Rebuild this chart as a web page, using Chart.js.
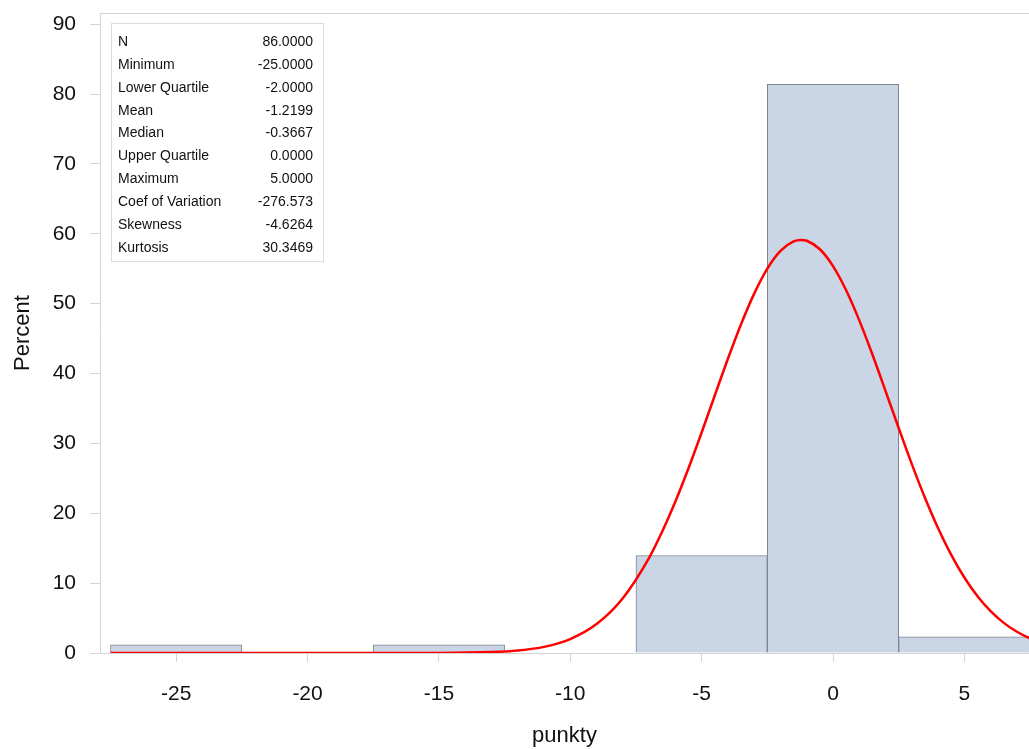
<!DOCTYPE html>
<html>
<head>
<meta charset="utf-8">
<script src="https://cdn.jsdelivr.net/npm/chart.js@4.4.0/dist/chart.umd.min.js"></script>
<style>
  html, body { margin: 0; padding: 0; background: #fff; }
  #wrap { width: 1029px; height: 749px; position: relative; }
</style>
</head>
<body>
<div id="wrap"><canvas id="hist"></canvas></div>
<script>
// histogram bins (midpoints) and percent of observations in each
const binMids = [-25, -20, -15, -10, -5, 0, 5];
const binPercent = [1.16, 0, 1.16, 0, 13.95, 81.4, 2.33];

// fitted normal curve, percent scale
const curveX = [-27.5, -20, -15, -13, -12, -11, -10, -9, -8, -7, -6.5, -6, -5.5, -5, -4.5, -4, -3.5, -3, -2.5, -2,
  -1.5, -1.22, -1, -0.5, 0, 0.5, 1, 1.5, 2, 2.5, 3, 3.5, 4, 4.5, 5, 5.5, 6, 6.5, 7, 7.5];
const curveY = [0, 0, 0.01, 0.13, 0.36, 0.88, 2.0, 4.14, 7.85, 13.63, 17.38, 21.67, 26.44, 31.56, 36.86, 42.11, 47.05, 51.44, 55.02, 57.56,
  58.92, 59.12, 59.0, 57.79, 55.38, 51.92, 47.61, 42.72, 37.49, 32.2, 27.04, 22.22, 17.86, 14.05, 10.81, 8.13, 5.99, 4.31, 3.04, 2.09];

const xTicks = [-25, -20, -15, -10, -5, 0, 5];
const yTicks = [0, 10, 20, 30, 40, 50, 60, 70, 80, 90];

// summary statistics table
const statNames = ['N', 'Minimum', 'Lower Quartile', 'Mean', 'Median', 'Upper Quartile', 'Maximum', 'Coef of Variation', 'Skewness', 'Kurtosis'];
const statValues = ['86.0000', '-25.0000', '-2.0000', '-1.2199', '-0.3667', '0.0000', '5.0000', '-276.573', '-4.6264', '30.3469'];

const FONT = "'Liberation Sans', Arial, sans-serif";
const axisGray = '#d4d4d4';

const frameAndStats = {
  id: 'frameAndStats',
  afterDraw(chart) {
    const { ctx, chartArea } = chart;
    ctx.save();
    // top frame line
    ctx.strokeStyle = axisGray;
    ctx.lineWidth = 1;
    ctx.beginPath();
    ctx.moveTo(chartArea.left, chartArea.top + 0.5);
    ctx.lineTo(chartArea.right, chartArea.top + 0.5);
    ctx.stroke();

    // stats inset
    const bx = 111.5, by = 23.5, bw = 212, bh = 238;
    ctx.fillStyle = '#fff';
    ctx.fillRect(bx, by, bw, bh);
    ctx.strokeStyle = '#dcdcdc';
    ctx.strokeRect(bx, by, bw, bh);
    ctx.font = '14px ' + FONT;
    ctx.fillStyle = '#111';
    ctx.textBaseline = 'middle';
    statNames.forEach((name, i) => {
      const y = 42 + i * 22.9;
      ctx.textAlign = 'left';
      ctx.fillText(name, 118, y);
      ctx.textAlign = 'right';
      ctx.fillText(statValues[i], 313, y);
    });
    ctx.restore();
  }
};

new Chart(document.getElementById('hist'), {
  type: 'bar',
  data: {
    datasets: [
      {
        type: 'line',
        data: curveX.map((x, i) => ({ x: x, y: curveY[i] })),
        borderColor: '#ff0000',
        borderWidth: 2.5,
        pointRadius: 0,
        cubicInterpolationMode: 'monotone',
        fill: false,
        order: 0
      },
      {
        type: 'bar',
        data: binMids.map((x, i) => ({ x: x, y: binPercent[i] })),
        backgroundColor: '#cad5e5',
        borderColor: '#7d8590',
        borderWidth: 1,
        barPercentage: 1,
        categoryPercentage: 1,
        order: 1
      }
    ]
  },
  options: {
    responsive: true,
    maintainAspectRatio: false,
    animation: false,
    layout: { padding: { top: 13, right: 0, left: 0, bottom: 0 } },
    plugins: {
      legend: { display: false },
      tooltip: { enabled: false }
    },
    scales: {
      x: {
        type: 'linear',
        offset: false,
        min: -27.9,
        max: 7.46,
        afterFit(scale) { scale.height = 96; scale.paddingLeft = 0; scale.paddingRight = 0; },
        afterBuildTicks(scale) { scale.ticks = xTicks.map(v => ({ value: v })); },
        grid: { offset: false, drawOnChartArea: false, drawTicks: true, tickLength: 9, color: axisGray },
        border: { display: true, color: axisGray },
        ticks: { color: '#111', font: { family: FONT, size: 21 }, padding: 20, maxRotation: 0 },
        title: { display: true, text: 'punkty', color: '#111', font: { family: FONT, size: 22 }, padding: { top: 8, bottom: 0 } }
      },
      y: {
        min: 0,
        max: 91.6,
        afterFit(scale) { scale.width = 100; scale.paddingTop = 0; scale.paddingBottom = 0; },
        afterBuildTicks(scale) { scale.ticks = yTicks.map(v => ({ value: v })); },
        grid: { drawOnChartArea: false, drawTicks: true, tickLength: 10, color: axisGray },
        border: { display: true, color: axisGray },
        ticks: { color: '#111', font: { family: FONT, size: 21 }, padding: 14 },
        title: { display: true, text: 'Percent', color: '#111', font: { family: FONT, size: 22 }, padding: { top: 10, bottom: 0 } }
      }
    }
  },
  plugins: [frameAndStats]
});
</script>
</body>
</html>
